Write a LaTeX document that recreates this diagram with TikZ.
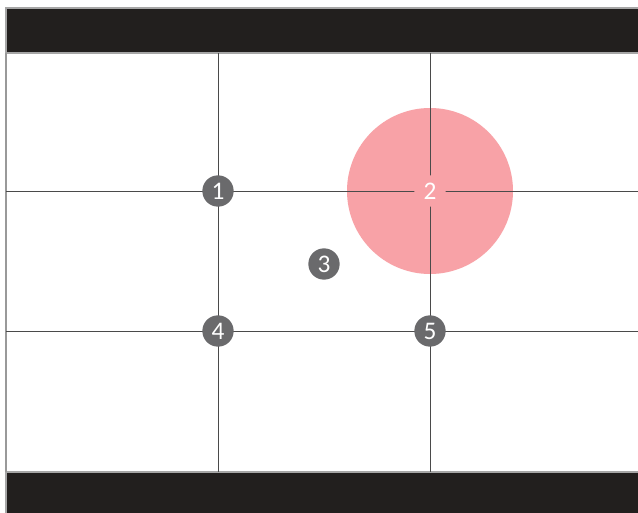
\documentclass[tikz,border=0pt]{standalone}
\usepackage{fontspec}
\setsansfont{Carlito}
\usepackage{tikz}
\usetikzlibrary{positioning}

\definecolor{barblack}{HTML}{221F1E}
\definecolor{spotgray}{HTML}{6A6A6C}
\definecolor{focusred}{HTML}{F8A2A7}
\definecolor{gridgray}{HTML}{4A4A4A}

\begin{document}
\begin{tikzpicture}[
    x=0.75pt,y=-0.75pt,
    bar/.style={fill=barblack,draw=gray!70,line width=0.8pt},
    grid/.style={draw=gridgray,line width=0.7pt},
    spot/.style={circle,fill=spotgray,minimum size=23.5pt,inner sep=0pt,
      text=white,font=\sffamily\fontsize{19}{19}\selectfont},
    every node/.style={font=\sffamily}]
  \useasboundingbox (0,0) rectangle (638,513);
  % ---- frame ----
  \fill[white] (0,0) rectangle (638,513);
  \draw[bar] (6,8) rectangle (640,53);
  \draw[bar] (6,472) rectangle (640,515);
  \coordinate (lt) at (6,53);
  \coordinate (lb) at (6,472);
  \draw[draw=gray!80,line width=1.2pt] (lt) -- (lb);
  % ---- focus circle ----
  \fill[focusred] (430,191) circle (83);
  % ---- grid lines ----
  \coordinate (h1l) at (6,191);   \coordinate (h1r) at (638,191);
  \coordinate (h2l) at (6,331);   \coordinate (h2r) at (638,331);
  \coordinate (v1t) at (218,53);  \coordinate (v1b) at (218,472);
  \coordinate (v2t) at (430,53);  \coordinate (v2b) at (430,472);
  \draw[grid] (h1l) -- (h1r);
  \draw[grid] (h2l) -- (h2r);
  \draw[grid] (v1t) -- (v1b);
  \draw[grid] (v2t) -- (v2b);
  % ---- points ----
  \node[spot] (p1) at (218,191) {1};
  \node[spot,fill=focusred] (p2) at (430,191) {2};
  \node[spot] (p3) at (324,264) {3};
  \node[spot] (p4) at (218,331) {4};
  \node[spot] (p5) at (430,331) {5};
\end{tikzpicture}
\end{document}
